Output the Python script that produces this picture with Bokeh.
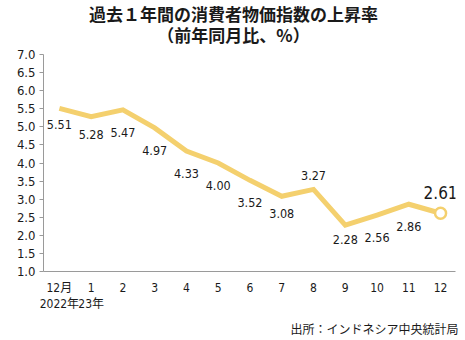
from bokeh.plotting import figure
from bokeh.models import Range1d, FixedTicker, Title, ColumnDataSource
from bokeh.embed import file_html
from bokeh.resources import INLINE
from bokeh.core.properties import value

months = ["12月\n2022年", "1\n23年", "2", "3", "4", "5", "6", "7", "8", "9", "10", "11", "12"]
cpi = [5.51, 5.28, 5.47, 4.97, 4.33, 4.00, 3.52, 3.08, 3.27, 2.28, 2.56, 2.86, 2.61]
label_dy = [16, 18, 23, 23, 22, 22, 22, 17, -14, 14, 22, 22, -21]
y_ticks = [1.0, 1.5, 2.0, 2.5, 3.0, 3.5, 4.0, 4.5, 5.0, 5.5, 6.0, 6.5, 7.0]
title_lines = ["過去１年間の消費者物価指数の上昇率", "（前年同月比、%）"]
source_note = "出所：インドネシア中央統計局"

FONT = "'Liberation Sans Narrow', 'DejaVu Sans Condensed', 'Noto Sans CJK JP', sans-serif"
JP = "'Noto Sans CJK JP', sans-serif"
LINE = "#F4D06E"
TXT = "#1a1a1a"

xs = list(range(len(cpi)))

# frame spans the full height above the x axis; 7.0 sits 54px below the top
FRAME_H = 271
PX_TOP7 = 54
y_end = (FRAME_H * 7 - PX_TOP7 * 1) / (FRAME_H - PX_TOP7)
unit = (FRAME_H - PX_TOP7) / 6.0

p = figure(width=465, height=340, output_backend="svg", toolbar_location=None,
           x_range=Range1d(-0.5, 12.47), y_range=Range1d(1, y_end),
           min_border_left=43, min_border_right=10, min_border_top=0, min_border_bottom=69)
p.outline_line_color = None
p.xgrid.grid_line_color = None
p.ygrid.grid_line_color = None
p.background_fill_color = "white"
p.border_fill_color = "white"

p.yaxis.ticker = FixedTicker(ticks=y_ticks)
p.yaxis.bounds = (1, 7)
p.yaxis.major_label_overrides = {t: f"{t:.1f}" for t in y_ticks}
p.yaxis.major_tick_in = 0
p.yaxis.major_tick_out = 4
p.yaxis.minor_tick_line_color = None
p.yaxis.axis_line_color = "#9a9a9a"
p.yaxis.major_tick_line_color = "#9a9a9a"
p.yaxis.major_label_text_font = FONT
p.yaxis.major_label_text_font_size = "13px"
p.yaxis.major_label_text_color = TXT
p.yaxis.major_label_standoff = 4

p.xaxis.ticker = FixedTicker(ticks=xs)
p.xaxis.major_label_overrides = {i: m for i, m in enumerate(months)}
p.xaxis.major_tick_line_color = None
p.xaxis.minor_tick_line_color = None
p.xaxis.axis_line_color = "#9a9a9a"
p.xaxis.major_label_text_font = FONT
p.xaxis.major_label_text_font_size = "12px"
p.xaxis.major_label_text_color = TXT
p.xaxis.major_label_standoff = 3

src = ColumnDataSource(dict(x=xs, y=cpi))
p.line("x", "y", source=src, line_color=LINE, line_width=5, line_join="miter")
p.scatter([xs[-1]], [cpi[-1]], size=11, fill_color="white", line_color=LINE, line_width=2.5)

lab_src = ColumnDataSource(dict(x=xs[:-1], y=cpi[:-1], lab=[f"{v:.2f}" for v in cpi[:-1]], dy=label_dy[:-1]))
p.text("x", "y", text="lab", source=lab_src, y_offset="dy", text_align="center",
       text_baseline="middle", text_font=value(FONT), text_font_size="12.5px", text_color=TXT)
p.text([xs[-1]], [cpi[-1]], text=[f"{cpi[-1]:.2f}"], y_offset=label_dy[-1], text_align="center",
       text_baseline="middle", text_font=value(FONT), text_font_size="17px", text_color=TXT)

# title lines placed in the empty band above 7.0 (pixel rows 14 and 34 from the top)
x_mid = 5.48
title_y = [1 + (FRAME_H - 13) / unit, 1 + (FRAME_H - 34) / unit]
p.text([x_mid, x_mid], title_y, text=title_lines, text_align="center", text_baseline="middle",
       text_font=value(JP), text_font_size="17px", text_font_style="bold", text_color=TXT)

p.add_layout(Title(text=source_note, align="right", offset=-3, standoff=6,
                   text_font=JP, text_font_size="12px", text_font_style="normal",
                   text_color=TXT), "below")

open("out.html", "w").write(file_html(p, INLINE))
